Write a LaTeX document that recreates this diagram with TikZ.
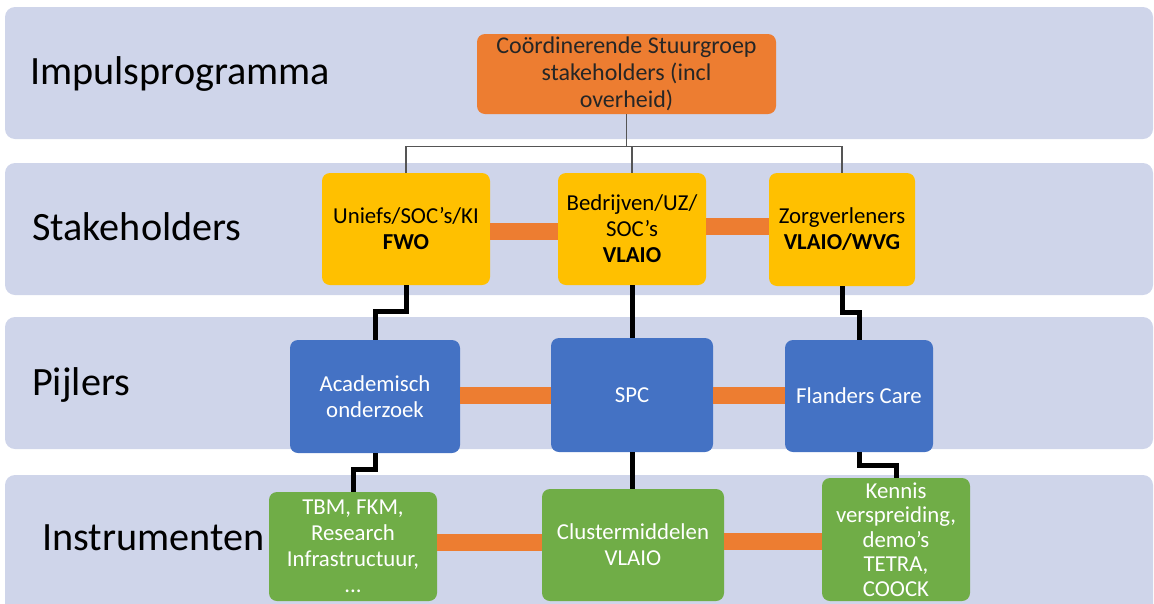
\documentclass[tikz,border=0pt]{standalone}
\usepackage{fontspec}
\setmainfont{Carlito}
\definecolor{bandc}{HTML}{CFD5EA}
\definecolor{orangec}{HTML}{ED7D31}
\definecolor{yellowc}{HTML}{FFC000}
\definecolor{bluec}{HTML}{4472C4}
\definecolor{greenc}{HTML}{70AD47}
\definecolor{grayline}{HTML}{555555}
\begin{document}
\begin{tikzpicture}[x=1pt,y=-1pt,
  bandbox/.style={fill=bandc, rounded corners=10pt},
  lbl/.style={anchor=base west, font=\fontsize{40.2}{46}\selectfont, text=black, inner sep=0pt},
  box/.style={rounded corners=8pt, inner sep=0pt, align=center, font=\fontsize{22.8}{26}\selectfont},
  ybox/.style={box, fill=yellowc, text=black},
  bbox/.style={box, fill=bluec, text=white},
  gbox/.style={box, fill=greenc, text=white},
  obar/.style={draw=orangec, line width=17pt},
  blk/.style={draw=black, line width=5pt},
  gry/.style={draw=grayline, line width=1.4pt}
]
\useasboundingbox (0,0) rectangle (1154,603);
% bands
\path[bandbox] (5,7) rectangle (1153,139);
\path[bandbox] (5,163) rectangle (1153,295);
\path[bandbox] (5,317) rectangle (1153,449);
\path[bandbox] (5,475) rectangle (1153,625);
% labels
\node[lbl] (l1) at (30,84) {Impulsprogramma};
\node[lbl] (l2) at (32,240) {Stakeholders};
\node[lbl] (l3) at (32,395) {Pijlers};
\node[lbl] (l4) at (42,550) {Instrumenten};
% top box
\node[box, fill=orangec, text=black!85, minimum width=299pt, minimum height=80pt,
  font=\fontsize{24}{27}\selectfont] (o) at (626.5,74) {Coördinerende Stuurgroep\\stakeholders (incl\\overheid)};
% stakeholders
\node[ybox, minimum width=168pt, minimum height=112pt] (y1) at (406,229) {Uniefs/SOC’s/KI\\\textbf{FWO}};
\node[ybox, minimum width=148pt, minimum height=112pt] (y2) at (632,229) {Bedrijven/UZ/\\SOC’s\\\textbf{VLAIO}};
\node[ybox, minimum width=146pt, minimum height=113pt] (y3) at (842,229.5) {Zorgverleners\\\textbf{VLAIO/WVG}};
% pillars
\node[bbox, minimum width=170pt, minimum height=113pt] (b1) at (375,396.5) {Academisch\\onderzoek};
\node[bbox, minimum width=162pt, minimum height=114pt] (b2) at (632,395) {SPC};
\node[bbox, minimum width=148pt, minimum height=112pt] (b3) at (859,396) {Flanders Care};
% instruments
\node[gbox, minimum width=168pt, minimum height=109pt] (g1) at (353,546.5) {TBM, FKM,\\Research\\Infrastructuur,\\...};
\node[gbox, minimum width=182pt, minimum height=112pt] (g2) at (633,545) {Clustermiddelen\\VLAIO};
\node[gbox, minimum width=148pt, minimum height=123pt, font=\fontsize{22.8}{24.5}\selectfont] (g3) at (896,539.5) {Kennis\\verspreiding,\\demo’s\\TETRA,\\COOCK};
% orange bars
\draw[obar] ([yshift=-2pt]y1.east) -- ([yshift=-2pt]y1.east -| y2.west);
\draw[obar] ([yshift=3pt]y2.east) -- ([yshift=3pt]y2.east -| y3.west);
\draw[obar] (b1.east |- b2.east) -- (b2.west);
\draw[obar] (b2.east) -- (b2.east -| b3.west);
\draw[obar] ([yshift=4pt]g1.east) -- ([yshift=4pt]g1.east -| g2.west);
\draw[obar] ([yshift=4pt]g2.east) -- ([yshift=4pt]g2.east -| g3.west);
% gray tree
\draw[gry] (o.south) -- ++(0,32) coordinate (hub) -| (y1.north);
\draw[gry] (hub) -| (y3.north);
\draw[gry] (hub) -| (y2.north);
% black connectors
\draw[blk] (y1.south) -- ++(0,26) -| (b1.north);
\draw[blk] (y2.south) -- (b2.north);
\draw[blk] (y3.south) -- ++(0,26) -| (b3.north);
\draw[blk] (b1.south) -- ++(0,16) -| (g1.north);
\draw[blk] (b2.south) -- (b2.south |- g2.north);
\draw[blk] (b3.south) -- ++(0,13) -| (g3.north);
\end{tikzpicture}
\end{document}
